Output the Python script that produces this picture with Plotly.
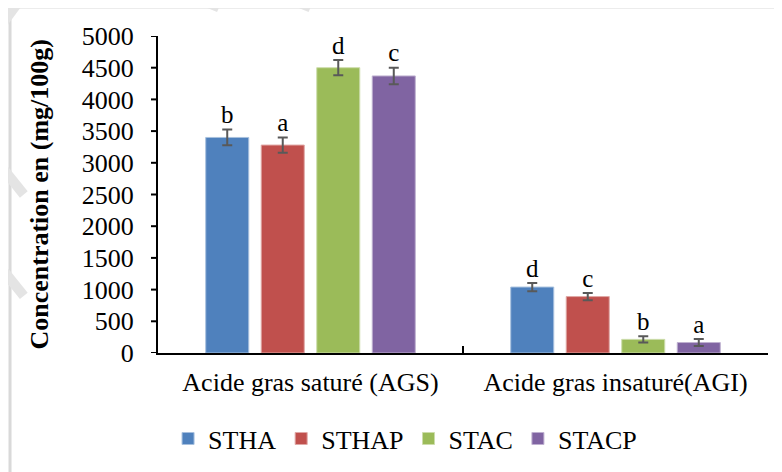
import plotly.graph_objects as go

categories = ["Acide gras saturé (AGS)", "Acide gras insaturé(AGI)"]
series_names = ["STHA", "STHAP", "STAC", "STACP"]
colors = ["#4F81BD", "#C0504D", "#9BBB59", "#8064A2"]
edge_colors = ["#A7C0DE", "#E0A8A6", "#CDDDAC", "#BFB1D0"]
values = {
    "STHA": [3400, 1040],
    "STHAP": [3280, 890],
    "STAC": [4500, 215],
    "STACP": [4370, 165],
}
errors = {
    "STHA": [125, 65],
    "STHAP": [120, 58],
    "STAC": [120, 50],
    "STACP": [130, 55],
}
letters = {
    "STHA": ["b", "d"],
    "STHAP": ["a", "c"],
    "STAC": ["d", "b"],
    "STACP": ["c", "a"],
}
y_ticks = list(range(0, 5001, 500))
y_title = "Concentration en (mg/100g)"

FONT = "Liberation Serif"
PLOT_W = 610  # plot-area width in px (782 - margins)

fig = go.Figure()
for name, col, ecol in zip(series_names, colors, edge_colors):
    fig.add_trace(go.Bar(
        x=categories, y=values[name], name=name,
        offsetgroup=name,
        marker=dict(color=col, line=dict(color=ecol, width=1)),
        error_y=dict(type="data", array=errors[name], visible=True,
                     color="#595959", thickness=2, width=5),
    ))
for name in series_names:
    tops = [v + e for v, e in zip(values[name], errors[name])]
    fig.add_trace(go.Scatter(
        x=categories, y=tops, mode="text", text=letters[name],
        textposition="top center", offsetgroup=name, showlegend=False,
        textfont=dict(family=FONT, size=25, color="black"),
        hoverinfo="skip",
    ))

# page body has an 8px margin: margins are reduced accordingly
fig.update_layout(
    width=782, height=472,
    margin=dict(l=150, r=22, t=28, b=127, autoexpand=False),
    paper_bgcolor="white", plot_bgcolor="white",
    barmode="group", scattermode="group",
    bargap=0.272, bargroupgap=0.225,
    font=dict(family=FONT, size=26, color="black"),
    showlegend=True,
    legend=dict(orientation="h", x=0.405, xanchor="center", y=-0.27, yanchor="middle",
                font=dict(family=FONT, size=26), bgcolor="rgba(0,0,0,0)",
                itemwidth=30, tracegroupgap=0),
)
fig.update_yaxes(
    range=[0, 5000], tickvals=y_ticks, ticktext=[str(t) for t in y_ticks],
    showgrid=False, zeroline=False,
    showline=True, linecolor="black", linewidth=2,
    ticks="outside", ticklen=17, tickwidth=2, tickcolor="rgba(0,0,0,0)",
    tickfont=dict(family=FONT, size=26),
)
fig.update_xaxes(
    type="category", showgrid=False, zeroline=False,
    showline=True, linecolor="black", linewidth=2,
    ticks="inside", tickson="boundaries", ticklen=7, tickwidth=2, tickcolor="black",
    ticklabelstandoff=5,
    tickfont=dict(family=FONT, size=26),
)

# y-axis title
fig.add_annotation(text="<b>" + y_title + "</b>", xref="paper", yref="paper",
                   x=-0.195, y=0.5, xanchor="center", yanchor="middle",
                   textangle=-90, showarrow=False,
                   font=dict(family=FONT, size=26, color="black"))

# short visible y tick marks
for t in y_ticks:
    fig.add_shape(type="line", xref="paper", yref="y",
                  x0=-7 / PLOT_W, x1=0, y0=t, y1=t,
                  line=dict(color="black", width=2))

# outer chart frame
fig.add_shape(type="rect", xref="paper", yref="paper",
              x0=-0.2426, x1=1.06, y0=-0.55, y1=1.0916,
              line=dict(color="#D9D9D9", width=3), layer="below")
# faint watermark strokes
for x0, y0, x1, y1 in [(-0.27, 1.0, -0.22, 1.13), (-0.27, 0.62, -0.22, 0.5),
                       (-0.27, 0.3, -0.22, 0.18), (0.05, 1.13, 0.1, 1.09),
                       (0.2, 1.13, 0.25, 1.09)]:
    fig.add_shape(type="line", xref="paper", yref="paper",
                  x0=x0, y0=y0, x1=x1, y1=y1,
                  line=dict(color="#E4E4E4", width=10), layer="below")

fig.write_html("out.html")
